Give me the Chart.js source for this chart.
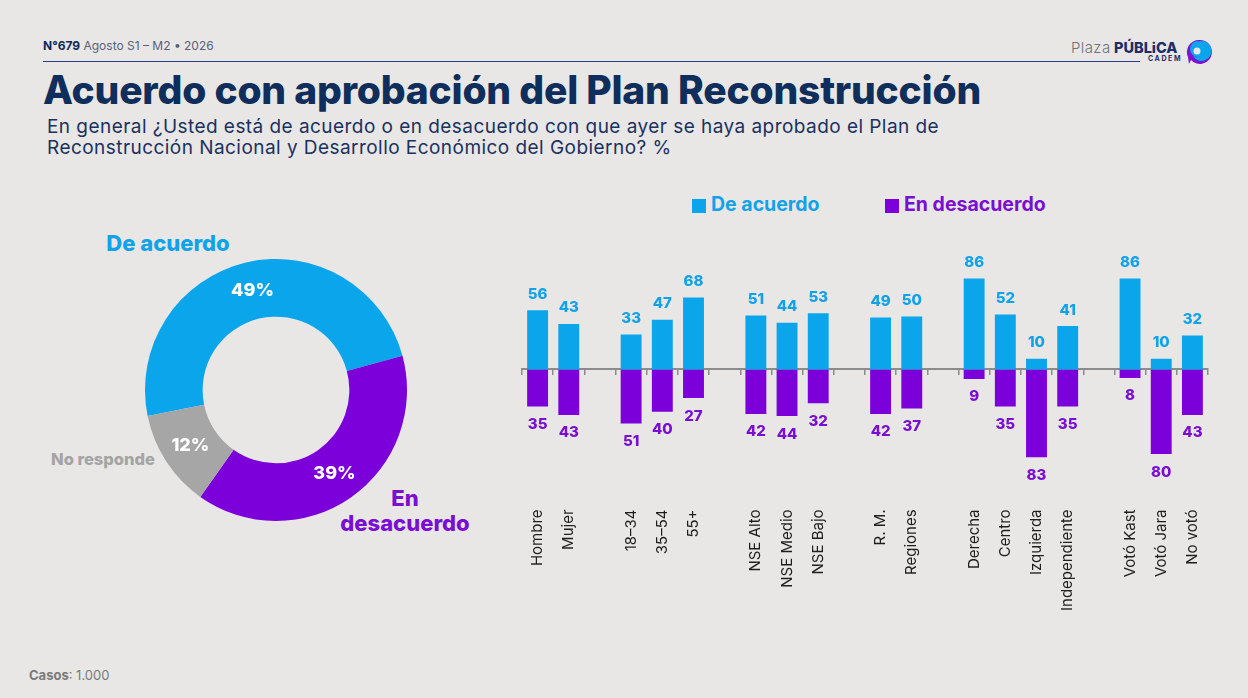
<!DOCTYPE html>
<html lang="es">
<head>
<meta charset="utf-8">
<title>Acuerdo con aprobación del Plan Reconstrucción</title>
<script src="https://cdn.jsdelivr.net/npm/chart.js@4.4.1/dist/chart.umd.min.js"></script>
<style>
  html, body { margin: 0; padding: 0; }
  body {
    width: 1248px; height: 698px; position: relative; overflow: hidden;
    background: #e8e7e6; font-family: Inter, "Noto Sans", sans-serif;
  }
  .abs { position: absolute; white-space: nowrap; line-height: 1.2; transform: translateY(-50%); }
  .box { position: absolute; }
  #header { left: 43px; top: 46px; font-size: 12px; color: #59607a; }
  #header b { color: #13285a; font-weight: 700; }
  #rule { position: absolute; left: 43px; top: 61px; width: 1097px; height: 1px; background: #2b3f86; }
  #title { left: 43px; top: 90px; font-size: 39px; font-weight: 800; color: #0f2e5c; letter-spacing: -0.2px; }
  .sub { left: 47px; font-size: 19px; color: #1b3160; letter-spacing: 0.45px; }
  #sub1 { top: 127px; }
  #sub2 { top: 148px; }
  .leg { font-size: 19.5px; font-weight: 700; top: 205px; }
  .sq { position: absolute; width: 14px; height: 14px; top: 199px; }
  #casos { left: 29px; top: 676px; font-size: 13px; color: #7a7a7a; }
  #casos b { font-weight: 700; }
  .dl { font-weight: 800; transform: translate(-50%, -50%); text-align: center; }
</style>
</head>
<body>

<div id="header" class="abs"><b>N°679</b> Agosto S1 – M2 • 2026</div>
<div id="rule"></div>

<div id="logo">
  <div class="abs" style="left:1071px;top:48px;font-size:15px;color:#6c7182;font-weight:300;letter-spacing:0.4px;">Plaza</div>
  <div class="abs" style="left:1114px;top:48px;font-size:14.5px;color:#1c2f66;font-weight:800;">PÚBLiCA</div>
  <div class="abs" style="left:1148px;top:59px;font-size:7px;color:#1c2f66;font-weight:700;letter-spacing:1.6px;">CADEM</div>
  <svg class="box" style="left:1185px;top:38px" width="28" height="28" viewBox="0 0 28 28">
    <path d="M14 2 A12 12 0 1 1 6 22 L4 26 L3 19 A12 12 0 0 1 14 2 Z" fill="#7b12d3"/>
    <path d="M15 3 A10 10 0 1 1 8 18 A7 7 0 0 0 15 3 Z" fill="#0ba5ec"/>
    <circle cx="13" cy="11" r="8" fill="#0ba5ec"/>
    <circle cx="12" cy="13" r="3.5" fill="#e8e7e6"/>
  </svg>
</div>

<div id="title" class="abs">Acuerdo con aprobación del Plan Reconstrucción</div>
<div id="sub1" class="abs sub">En general ¿Usted está de acuerdo o en desacuerdo con que ayer se haya aprobado el Plan de</div>
<div id="sub2" class="abs sub">Reconstrucción Nacional y Desarrollo Económico del Gobierno? %</div>

<!-- doughnut -->
<div class="abs dl" style="left:168px;top:243px;font-size:22px;color:#12a2e8;">De acuerdo</div>
<div class="abs dl" style="left:103px;top:460px;font-size:16.5px;color:#a4a4a4;">No responde</div>
<div class="abs dl" style="left:405px;top:511px;font-size:22px;color:#7a0fd2;line-height:1.15;">En<br>desacuerdo</div>
<canvas id="pie" class="box" style="left:145px;top:259px" width="262" height="262"></canvas>

<!-- legend -->
<div class="sq" style="left:692px;background:#0ba5ec;"></div>
<div class="abs leg" style="left:711px;color:#12a2e8;">De acuerdo</div>
<div class="sq" style="left:885px;background:#7b00d9;"></div>
<div class="abs leg" style="left:904px;color:#7a0fd2;">En desacuerdo</div>

<canvas id="bars" class="box" style="left:510px;top:240px" width="710" height="376"></canvas>

<div id="casos" class="abs"><b>Casos</b>: 1.000</div>

<script>
// ---- data ----
const shareLabels = ['De acuerdo', 'En desacuerdo', 'No responde'];
const shareValues = [49, 39, 12];
const shareColors = ['#0ba5ec', '#7b00d9', '#a6a6a6'];

// empty strings are the gaps between groups
const categories = ['Hombre', 'Mujer', '', '18–34', '35–54', '55+', '', 'NSE Alto', 'NSE Medio', 'NSE Bajo', '',
  'R. M.', 'Regiones', '', 'Derecha', 'Centro', 'Izquierda', 'Independiente', '', 'Votó Kast', 'Votó Jara', 'No votó'];
const acuerdo    = [56, 43, null, 33, 47, 68, null, 51, 44, 53, null, 49, 50, null, 86, 52, 10, 41, null, 86, 10, 32];
const desacuerdo = [35, 43, null, 51, 40, 27, null, 42, 44, 32, null, 42, 37, null, 9, 35, 83, 35, null, 8, 80, 43];

const BLUE = '#0ba5ec', PURPLE = '#7b00d9';
const BLUE_TXT = '#12a2e8', PURPLE_TXT = '#7a0fd2';

Chart.defaults.font.family = 'Inter, "Noto Sans", sans-serif';
Chart.defaults.animation = false;

// ---- doughnut ----
const arcPctLabels = {
  id: 'arcPctLabels',
  afterDatasetsDraw(chart) {
    const ctx = chart.ctx;
    const meta = chart.getDatasetMeta(0);
    ctx.save();
    ctx.font = '800 18px Inter, sans-serif';
    ctx.fillStyle = '#ffffff';
    ctx.textAlign = 'center';
    ctx.textBaseline = 'middle';
    meta.data.forEach((arc, i) => {
      const p = arc.tooltipPosition();
      ctx.fillText(shareValues[i] + '%', p.x, p.y);
    });
    ctx.restore();
  }
};

new Chart(document.getElementById('pie').getContext('2d'), {
  type: 'doughnut',
  data: {
    labels: shareLabels,
    datasets: [{
      data: shareValues,
      backgroundColor: shareColors,
      borderWidth: 0,
      hoverOffset: 0
    }]
  },
  options: {
    responsive: false,
    cutout: '56%',
    rotation: 258.5,
    plugins: { legend: { display: false }, tooltip: { enabled: false } }
  },
  plugins: [arcPctLabels]
});

// ---- bars ----
const barValueLabels = {
  id: 'barValueLabels',
  afterDatasetsDraw(chart) {
    const ctx = chart.ctx;
    ctx.save();
    ctx.font = '800 15px Inter, sans-serif';
    ctx.textAlign = 'center';
    ctx.textBaseline = 'middle';
    [acuerdo, desacuerdo].forEach((raw, di) => {
      const meta = chart.getDatasetMeta(di);
      ctx.fillStyle = di === 0 ? BLUE_TXT : PURPLE_TXT;
      meta.data.forEach((bar, i) => {
        if (raw[i] == null) return;
        ctx.fillText(String(raw[i]), bar.x, bar.y + (di === 0 ? -16 : 18));
      });
    });
    ctx.restore();
  }
};

new Chart(document.getElementById('bars').getContext('2d'), {
  type: 'bar',
  data: {
    labels: categories,
    datasets: [
      { label: 'De acuerdo', data: acuerdo, backgroundColor: BLUE },
      { label: 'En desacuerdo', data: desacuerdo.map(v => v == null ? null : -v), backgroundColor: PURPLE }
    ]
  },
  options: {
    responsive: false,
    layout: { padding: { left: 12, right: 12, top: 13, bottom: 0 } },
    datasets: { bar: { categoryPercentage: 1, barPercentage: 0.67 } },
    plugins: { legend: { display: false }, tooltip: { enabled: false } },
    scales: {
      y: { stacked: true, min: -120, max: 110, display: false },
      x: {
        stacked: true,
        grid: { display: false },
        border: { display: false },
        ticks: {
          autoSkip: false, minRotation: 90, maxRotation: 90, padding: 5,
          color: '#1e1e1e', font: { size: 15 }
        }
      },
      x0: {
        type: 'category',
        labels: categories,
        position: { y: 0 },
        z: 1,
        grid: { offset: true, drawOnChartArea: false, drawTicks: true, tickLength: 5, color: '#8c8c8c', lineWidth: 1.5 },
        border: { color: '#8c8c8c', width: 2 },
        ticks: { display: false }
      }
    }
  },
  plugins: [barValueLabels]
});
</script>
</body>
</html>
